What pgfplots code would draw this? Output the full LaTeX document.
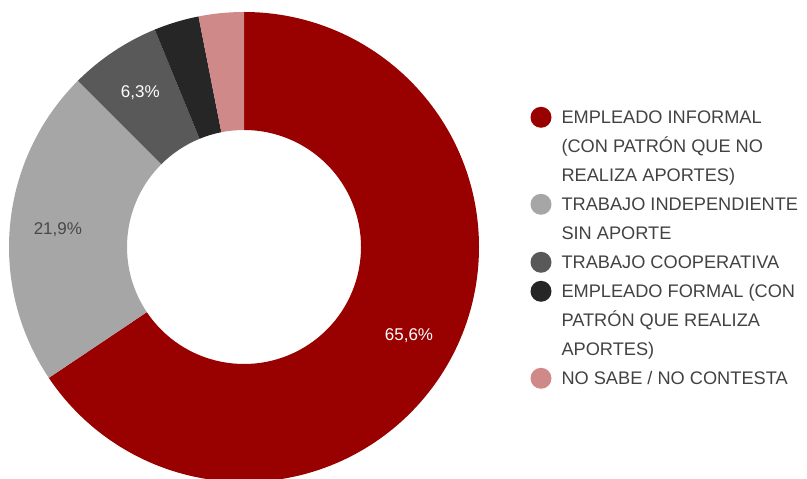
\documentclass[border=0pt]{standalone}
\usepackage{fontspec}
\setmainfont{Liberation Sans}
\usepackage{pgfplots}
\usepackage{pgfplotstable}
\pgfplotsset{compat=1.18}
\definecolor{cRed}{RGB}{153,0,0}
\definecolor{cLight}{RGB}{166,166,166}
\definecolor{cDark}{RGB}{89,89,89}
\definecolor{cBlack}{RGB}{38,38,38}
\definecolor{cPink}{RGB}{208,137,137}
\definecolor{txt}{RGB}{66,66,66}
\definecolor{lblDark}{RGB}{72,72,72}

\pgfplotstableread{
value color labelcolor showlabel
65.6 cRed white 1
21.9 cLight lblDark 1
6.3 cDark white 1
3.1 cBlack white 0
3.1 cPink white 0
}\piedata

\newcommand\lst{\vrule height 20pt depth 9pt width 0pt}
\newcommand\lp[1]{\fontsize{18.2}{29}\selectfont\lst #1}

\begin{document}
\begin{tikzpicture}
\useasboundingbox (0,0) rectangle (807pt,479pt);
\begin{axis}[
  hide axis, scale only axis,
  width=807pt, height=479pt,
  xmin=0, xmax=807, ymin=0, ymax=479,
  at={(0,0)}, anchor=south west, clip=false,
  legend image code/.code={\path[draw=none,fill=none] (0pt,-9pt) rectangle (21pt,20pt); \fill[draw=none,#1] (10.5pt,6pt) circle[radius=10.5pt];},
  legend style={at={(axis cs:530.5,375.7)}, anchor=north west,
    draw=none, fill=none, inner sep=0pt, outer sep=0pt, row sep=0pt,
    text=txt, font=\fontsize{18.2}{29}\selectfont,
    nodes={inner sep=0pt, outer sep=0pt, text=txt},
    cells={anchor=base west},
    /tikz/every odd column/.style={column sep=10pt}},
]
\def\wa{90}
\foreach \i in {0,...,4}{%
  \pgfplotstablegetelem{\i}{value}\of\piedata \let\wv\pgfplotsretval
  \pgfplotstablegetelem{\i}{color}\of\piedata \let\wc\pgfplotsretval
  \pgfplotstablegetelem{\i}{labelcolor}\of\piedata \let\wl\pgfplotsretval
  \pgfplotstablegetelem{\i}{showlabel}\of\piedata \let\ws\pgfplotsretval
  \pgfmathsetmacro\wb{\wa-3.6*\wv}
  \pgfmathsetmacro\xo{244+235*cos(\wa)}
  \pgfmathsetmacro\yo{232+235*sin(\wa)}
  \pgfmathsetmacro\xi{244+117*cos(\wb)}
  \pgfmathsetmacro\yi{232+117*sin(\wb)}
  \pgfmathsetmacro\wm{\wa-1.8*\wv}
  \pgfmathsetmacro\xl{244+187*cos(\wm)}
  \pgfmathsetmacro\yl{231+187*sin(\wm)}
  \edef\temp{\noexpand\fill[\wc] (axis cs:\xo,\yo) arc[start angle=\wa,end angle=\wb,radius=235pt] -- (axis cs:\xi,\yi) arc[start angle=\wb,end angle=\wa,radius=117pt] -- cycle;}
  \temp
  \ifnum\ws=1
    \edef\temp{\noexpand\node[text=\wl, font=\noexpand\fontsize{17}{20}\noexpand\selectfont] at (axis cs:\xl,\yl) {\noexpand\pgfmathprintnumber[fixed,fixed zerofill,precision=1,use comma,assume math mode=true]{\wv}\noexpand\%};}
    \temp
  \fi
  \global\let\wa\wb
}
\addlegendimage{cRed}
\addlegendentry{\lp{EMPLEADO INFORMAL}}
\addlegendimage{white}
\addlegendentry{\lp{(CON PATRÓN QUE NO}}
\addlegendimage{white}
\addlegendentry{\lp{REALIZA APORTES)}}
\addlegendimage{cLight}
\addlegendentry{\lp{TRABAJO INDEPENDIENTE}}
\addlegendimage{white}
\addlegendentry{\lp{SIN APORTE}}
\addlegendimage{cDark}
\addlegendentry{\lp{TRABAJO COOPERATIVA}}
\addlegendimage{cBlack}
\addlegendentry{\lp{EMPLEADO FORMAL (CON}}
\addlegendimage{white}
\addlegendentry{\lp{PATRÓN QUE REALIZA}}
\addlegendimage{white}
\addlegendentry{\lp{APORTES)}}
\addlegendimage{cPink}
\addlegendentry{\lp{NO SABE / NO CONTESTA}}
\end{axis}
\end{tikzpicture}
\end{document}
